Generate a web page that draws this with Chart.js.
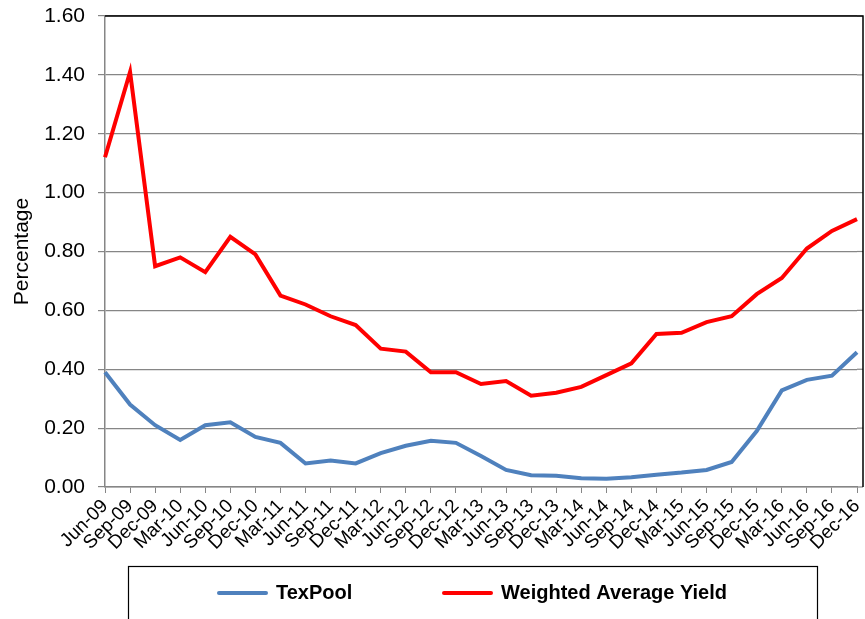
<!DOCTYPE html>
<html>
<head>
<meta charset="utf-8">
<script src="https://cdn.jsdelivr.net/npm/chart.js@4.4.1/dist/chart.umd.min.js"></script>
<style>
  html, body { margin: 0; padding: 0; background: #fff; }
  #wrap { width: 865px; height: 619px; }
</style>
</head>
<body>
<div id="wrap"><canvas id="grafico" width="865" height="619"></canvas></div>
<script>
// trimestres
const trimestres = ['Jun-09', 'Sep-09', 'Dec-09', 'Mar-10', 'Jun-10', 'Sep-10', 'Dec-10',
    'Mar-11', 'Jun-11', 'Sep-11', 'Dec-11', 'Mar-12', 'Jun-12', 'Sep-12', 'Dec-12',
    'Mar-13', 'Jun-13', 'Sep-13', 'Dec-13', 'Mar-14', 'Jun-14', 'Sep-14', 'Dec-14',
    'Mar-15', 'Jun-15', 'Sep-15', 'Dec-15', 'Mar-16', 'Jun-16', 'Sep-16', 'Dec-16'];

const texPool = [0.39, 0.28, 0.21, 0.16, 0.21, 0.22, 0.17, 0.15, 0.08, 0.09, 0.08, 0.115,
    0.14, 0.157, 0.15, 0.105, 0.058, 0.04, 0.038, 0.03, 0.028, 0.033, 0.042, 0.049,
    0.058, 0.085, 0.19, 0.328, 0.364, 0.378, 0.458];

const weightedYield = [1.12, 1.41, 0.75, 0.78, 0.73, 0.85, 0.79, 0.65, 0.62, 0.58, 0.55,
    0.47, 0.46, 0.39, 0.39, 0.35, 0.36, 0.31, 0.32, 0.34, 0.38, 0.42, 0.52, 0.524,
    0.56, 0.58, 0.655, 0.71, 0.81, 0.87, 0.91];

const yTicks = [0, 0.2, 0.4, 0.6, 0.8, 1.0, 1.2, 1.4, 1.6];

const fuente = 'Arial, "Liberation Sans", sans-serif';

// borde negro arriba y a la derecha + leyenda en caja
const marcoYLeyenda = {
    id: 'marcoYLeyenda',
    afterDraw(chart) {
        const ctx = chart.ctx;
        const a = chart.chartArea;
        const escalaY = chart.scales.y;
        const derecha = 863;
        ctx.save();

        // prolongar la grilla hasta el borde
        ctx.strokeStyle = '#868686';
        ctx.lineWidth = 1.2;
        yTicks.forEach(v => {
            const py = escalaY.getPixelForValue(v);
            ctx.beginPath();
            ctx.moveTo(a.right, py);
            ctx.lineTo(derecha, py);
            ctx.stroke();
        });

        ctx.strokeStyle = '#000';
        ctx.lineWidth = 1.5;
        ctx.beginPath();
        ctx.moveTo(a.left, a.top);
        ctx.lineTo(derecha, a.top);
        ctx.lineTo(derecha, a.bottom);
        ctx.stroke();

        // caja de la leyenda
        ctx.lineWidth = 1.2;
        ctx.strokeRect(128.5, 566.5, 689, 70);

        const items = [
            { texto: 'TexPool', color: '#4F81BD', x: 219 },
            { texto: 'Weighted Average Yield', color: '#FF0000', x: 444 }
        ];
        ctx.font = 'bold 20px ' + fuente;
        ctx.textBaseline = 'middle';
        ctx.textAlign = 'left';
        items.forEach(it => {
            ctx.strokeStyle = it.color;
            ctx.lineWidth = 4;
            ctx.lineCap = 'round';
            ctx.beginPath();
            ctx.moveTo(it.x, 593);
            ctx.lineTo(it.x + 47, 593);
            ctx.stroke();
            ctx.fillStyle = '#000';
            ctx.fillText(it.texto, it.x + 57, 593);
        });
        ctx.restore();
    }
};

const config = {
    type: 'line',
    data: {
        labels: trimestres,
        datasets: [{
            label: 'TexPool',
            data: texPool,
            borderColor: '#4F81BD',
            borderWidth: 4,
            pointRadius: 0,
            tension: 0
        }, {
            label: 'Weighted Average Yield',
            data: weightedYield,
            borderColor: '#FF0000',
            borderWidth: 4,
            pointRadius: 0,
            tension: 0
        }]
    },
    options: {
        responsive: false,
        animation: false,
        layout: { padding: { top: 16, right: 8, left: 0, bottom: 0 } },
        plugins: {
            legend: { display: false },
            tooltip: { enabled: false }
        },
        scales: {
            x: {
                offset: false,
                afterFit(scale) {
                    scale.height = 132;
                    scale.paddingLeft = 0;
                    scale.paddingRight = 0;
                },
                grid: {
                    drawOnChartArea: false,
                    drawTicks: true,
                    tickLength: 6,
                    color: '#868686',
                    offset: false
                },
                border: { color: '#868686', width: 1.5 },
                ticks: {
                    autoSkip: false,
                    maxRotation: 45,
                    minRotation: 45,
                    padding: 2,
                    color: '#000',
                    font: { family: fuente, size: 19 }
                }
            },
            y: {
                min: 0,
                max: 1.6,
                afterFit(scale) {
                    scale.width = 105;
                    scale.paddingTop = 0;
                    scale.paddingBottom = 0;
                },
                afterBuildTicks(scale) { scale.ticks = yTicks.map(v => ({ value: v })); },
                grid: {
                    color: '#868686',
                    lineWidth: 1.2,
                    tickLength: 7
                },
                border: { color: '#868686', width: 1.5 },
                ticks: {
                    padding: 13,
                    color: '#000',
                    font: { family: fuente, size: 21 },
                    callback: v => v.toFixed(2)
                },
                title: {
                    display: true,
                    text: 'Percentage',
                    color: '#000',
                    padding: { top: 10, bottom: 0 },
                    font: { family: fuente, size: 21 }
                }
            }
        }
    },
    plugins: [marcoYLeyenda]
};

new Chart(document.getElementById('grafico'), config);
</script>
</body>
</html>
